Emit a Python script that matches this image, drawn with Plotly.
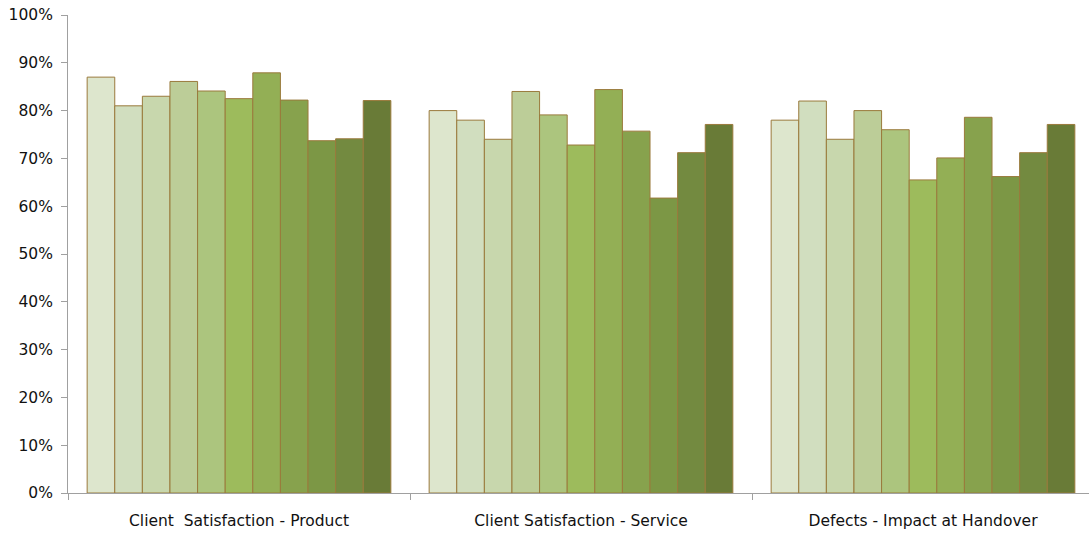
import plotly.graph_objects as go

categories = ["Client\u00a0 Satisfaction - Product", "Client Satisfaction - Service", "Defects - Impact at Handover"]

series_values = [
    [87.0, 80.0, 78.0],
    [81.0, 78.0, 82.0],
    [83.0, 74.0, 74.0],
    [86.1, 84.0, 80.0],
    [84.1, 79.1, 76.0],
    [82.5, 72.8, 65.5],
    [87.9, 84.4, 70.1],
    [82.2, 75.7, 78.6],
    [73.7, 61.7, 66.2],
    [74.1, 71.2, 71.2],
    [82.1, 77.1, 77.1],
]

colors = ["#DDE6CD", "#D1DEBF", "#C8D7AD", "#BCCD98", "#ACC57E", "#9DBB5C",
          "#93AF55", "#87A24D", "#7C9745", "#738A40", "#697B37"]

y_ticks = list(range(0, 101, 10))
y_tick_labels = [f"{v}%" for v in y_ticks]

fig = go.Figure()
for i, vals in enumerate(series_values):
    fig.add_trace(go.Bar(
        x=categories, y=vals, name=f"S{i+1}",
        marker=dict(color=colors[i], line=dict(color="#9A7A3C", width=1)),
    ))

font = "Lucida Grande, DejaVu Sans, sans-serif"
fig.update_layout(
    width=1096, height=533,
    margin=dict(l=68, r=2, t=15, b=40),
    barmode="group", bargap=0.112, bargroupgap=0,
    plot_bgcolor="white", paper_bgcolor="white",
    showlegend=False,
    font=dict(family=font, size=15, color="#111111"),
)
fig.update_xaxes(
    showline=True, linecolor="#A0A0A0", linewidth=1,
    ticks="outside", tickson="boundaries", ticklen=6, tickcolor="#A0A0A0",
    showgrid=False, tickfont=dict(size=15.5), ticklabelstandoff=13,
    automargin=False,
)
fig.update_yaxes(
    range=[0, 100], tickvals=y_ticks, ticktext=y_tick_labels,
    showline=True, linecolor="#A0A0A0", linewidth=1,
    ticks="outside", ticklen=6, tickcolor="#A0A0A0",
    showgrid=False, zeroline=False, tickfont=dict(size=15.5),
    ticklabelstandoff=5, automargin=False,
)

fig.write_html(
    "out.html",
    config={"displayModeBar": False},
    post_script="document.body.style.margin='0';document.body.style.overflow='hidden';",
)
